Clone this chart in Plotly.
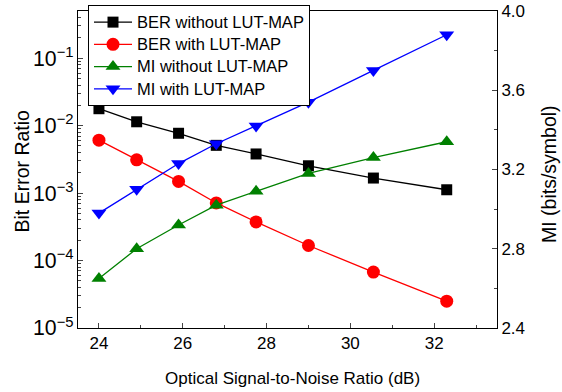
import plotly.graph_objects as go

osnr = [24.0, 24.9, 25.9, 26.8, 27.75, 29.0, 30.55, 32.3]
ber_without = [0.0178, 0.0114, 0.0077, 0.0051, 0.0038, 0.00254, 0.00167, 0.00112]
ber_with = [0.00608, 0.00311, 0.00149, 0.000714, 0.000374, 0.000167, 6.75e-5, 2.5e-5]
mi_without = [2.65, 2.80, 2.92, 3.02, 3.09, 3.18, 3.26, 3.34]
mi_with = [2.98, 3.10, 3.23, 3.33, 3.42, 3.54, 3.70, 3.88]

names = ["BER without LUT-MAP", "BER with LUT-MAP", "MI without LUT-MAP", "MI with LUT-MAP"]
x_title = "Optical Signal-to-Noise Ratio (dB)"
y_title = "Bit Error Ratio"
y2_title = "MI (bits/symbol)"
FONT = "Liberation Sans, Arial, sans-serif"


def legend_label(s):
    return '<span style="font-size:16.5px">' + s + '</span>'


W, H = 562, 392
ML, MR, MT, MB = 78, 65, 11, 64

fig = go.Figure()
fig.add_trace(go.Scatter(x=osnr, y=ber_without, name=legend_label(names[0]), mode="lines+markers",
                         line=dict(color="black", width=1.3),
                         marker=dict(symbol="square", size=11, color="black")))
fig.add_trace(go.Scatter(x=osnr, y=ber_with, name=legend_label(names[1]), mode="lines+markers",
                         line=dict(color="#ff0000", width=1.3),
                         marker=dict(symbol="circle", size=13, color="#ff0000")))
fig.add_trace(go.Scatter(x=osnr, y=mi_without, name=legend_label(names[2]), mode="lines+markers",
                         yaxis="y2", line=dict(color="#008000", width=1.3),
                         marker=dict(symbol="triangle-up", size=13, color="#008000")))
fig.add_trace(go.Scatter(x=osnr, y=mi_with, name=legend_label(names[3]), mode="lines+markers",
                         yaxis="y2", line=dict(color="#0000ff", width=1.3),
                         marker=dict(symbol="triangle-down", size=13, color="#0000ff")))

pw = W - ML - MR
ph = H - MT - MB

fig.update_layout(
    width=W, height=H,
    margin=dict(l=ML, r=MR, t=MT, b=MB, autoexpand=False),
    paper_bgcolor="white", plot_bgcolor="white",
    font=dict(family=FONT, size=17, color="black"),
    showlegend=True,
    legend=dict(x=(88 - ML) / pw, y=(H - MB - 5) / ph, xanchor="left", yanchor="top",
                bgcolor="white", bordercolor="black", borderwidth=1,
                font=dict(size=14.8), tracegroupgap=0, itemwidth=38),
    xaxis=dict(range=[23.5, 33.5], dtick=2, tick0=24, ticks="inside", ticklen=5,
               showline=True, linecolor="black", linewidth=1, mirror=True,
               showgrid=False, zeroline=False, automargin=False,
               minor=dict(ticks="inside", ticklen=3, dtick=1, tick0=24, showgrid=False)),
    yaxis=dict(type="log", range=[-5, -0.301], dtick=1, exponentformat="power",
               ticks="inside", ticklen=5, showline=True, linecolor="black", linewidth=1,
               showgrid=False, zeroline=False, automargin=False,
               minor=dict(ticks="inside", ticklen=3, showgrid=False)),
    yaxis2=dict(overlaying="y", side="right", range=[2.4, 4.0], dtick=0.4, tick0=2.4,
                tickformat=".1f", ticks="inside", ticklen=5,
                showline=True, linecolor="black", linewidth=1,
                showgrid=False, zeroline=False, automargin=False,
                minor=dict(ticks="inside", ticklen=3, dtick=0.2, tick0=2.4, showgrid=False)),
    annotations=[
        dict(text=x_title, xref="paper", yref="paper", x=(292.5 - ML) / pw,
             y=-(379 - (H - MB)) / ph, xanchor="center", yanchor="middle",
             showarrow=False, font=dict(size=17)),
        dict(text=y_title, xref="paper", yref="paper", x=-(ML - 21) / pw,
             y=(H - MB - 171.5) / ph, xanchor="center", yanchor="middle",
             textangle=-90, showarrow=False, font=dict(size=19.5)),
        dict(text=y2_title, xref="paper", yref="paper", x=1 + (549 - (W - MR)) / pw,
             y=(H - MB - 174) / ph, xanchor="center", yanchor="middle",
             textangle=-90, showarrow=False, font=dict(size=19.5)),
    ],
)

fig.write_html("out.html", config={"displayModeBar": False},
               post_script="document.body.style.margin='0';document.body.style.overflow='hidden';")
